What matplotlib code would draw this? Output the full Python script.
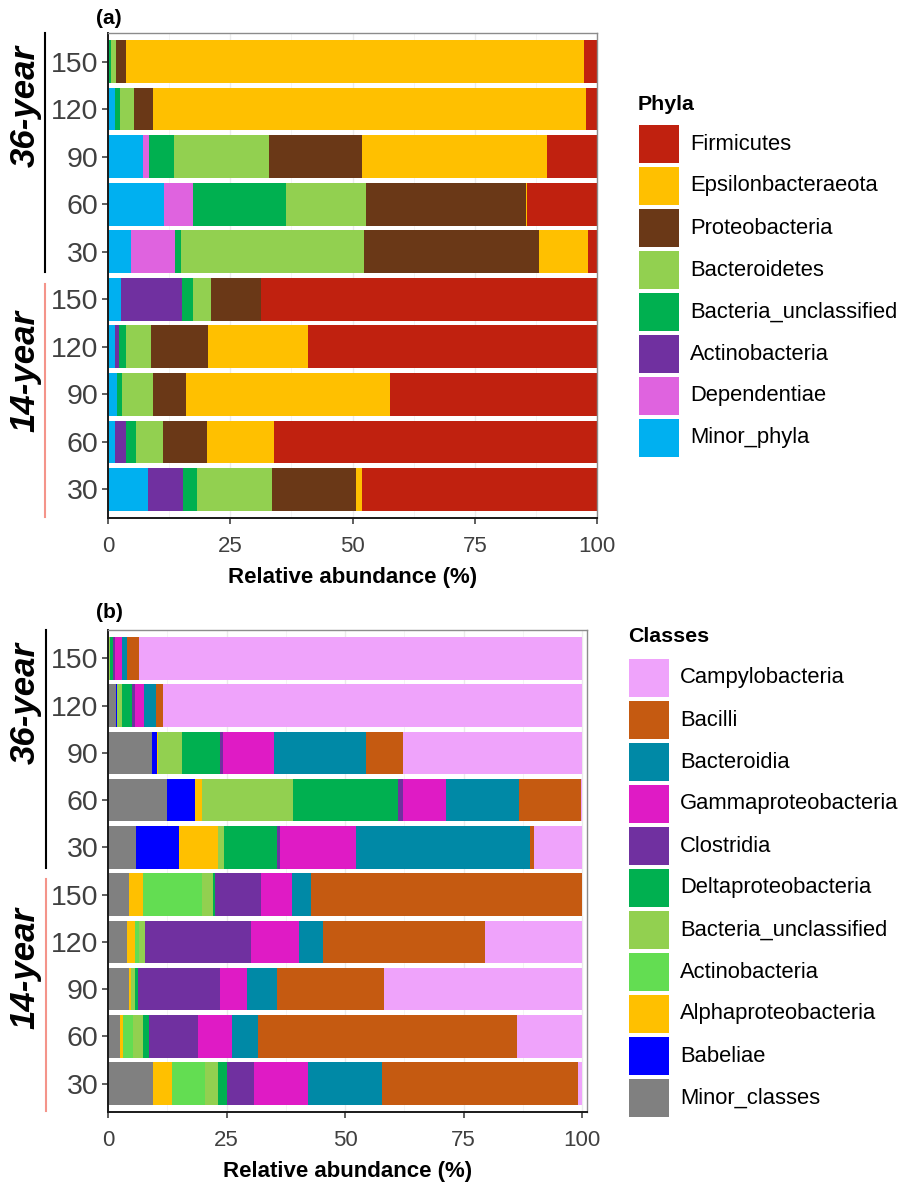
import matplotlib
matplotlib.use("Agg")
import matplotlib.pyplot as plt
from matplotlib.patches import Rectangle
from matplotlib.lines import Line2D
import numpy as np

plt.rcParams['font.family'] = ['Liberation Sans', 'DejaVu Sans']

# rows top to bottom: 36-year 150..30, then 14-year 150..30
depth_labels = ['150', '120', '90', '60', '30', '150', '120', '90', '60', '30']

# (a) phyla, stacked left to right in this order
phyla = ['Minor_phyla', 'Dependentiae', 'Actinobacteria', 'Bacteria_unclassified',
         'Bacteroidetes', 'Proteobacteria', 'Epsilonbacteraeota', 'Firmicutes']
phyla_colors = ['#00B0F0', '#DF63DF', '#7030A0', '#00B050',
                '#92D050', '#6A3817', '#FFC000', '#C0210F']
minor_phyla = [0.0, 1.5, 7.2, 11.5, 4.7, 2.6, 1.4, 1.8, 1.4, 8.1]
dependentiae = [0.0, 0.0, 1.2, 5.8, 8.9, 0.0, 0.0, 0.0, 0.0, 0.0]
actinobacteria_p = [0.0, 0.0, 0.0, 0.0, 0.0, 12.5, 0.9, 0.0, 2.2, 7.2]
bact_uncl_p = [0.55, 1.0, 5.0, 19.2, 1.3, 2.2, 1.4, 1.1, 2.1, 2.8]
bacteroidetes = [1.0, 2.8, 19.6, 16.3, 37.5, 3.8, 5.1, 6.4, 5.5, 15.4]
proteobacteria = [2.05, 3.9, 19.0, 32.6, 35.7, 10.2, 11.7, 6.7, 9.1, 17.3]
epsilonbacteraeota = [93.7, 88.6, 37.8, 0.3, 10.1, 0.0, 20.5, 41.7, 13.6, 1.1]
firmicutes = [2.7, 2.2, 10.2, 14.3, 1.8, 68.7, 59.0, 42.3, 66.1, 48.1]

# (b) classes, stacked left to right in this order
classes = ['Minor_classes', 'Babeliae', 'Alphaproteobacteria', 'Actinobacteria',
           'Bacteria_unclassified', 'Deltaproteobacteria', 'Clostridia',
           'Gammaproteobacteria', 'Bacteroidia', 'Bacilli', 'Campylobacteria']
class_colors = ['#808080', '#0000FF', '#FFC000', '#63DD52', '#92D050', '#00B050',
                '#7030A0', '#DF1BC5', '#0089A6', '#C55A11', '#EFA3FB']
minor_classes = [0.2, 1.6, 9.3, 12.5, 5.85, 4.4, 4.0, 4.5, 2.6, 9.5]
babeliae = [0.0, 0.3, 1.1, 5.8, 9.05, 0.0, 0.0, 0.0, 0.0, 0.0]
alphaproteobacteria = [0.0, 0.0, 0.2, 1.6, 8.3, 3.0, 1.6, 0.4, 0.5, 4.0]
actinobacteria_c = [0.0, 0.0, 0.0, 0.0, 0.0, 12.4, 0.95, 0.0, 2.2, 7.0]
bact_uncl_c = [0.3, 1.05, 5.1, 19.1, 1.2, 2.3, 1.35, 0.8, 2.0, 2.7]
deltaproteobacteria = [0.5, 2.05, 8.0, 22.2, 11.2, 0.5, 0.0, 0.6, 1.3, 1.9]
clostridia = [0.4, 0.6, 0.6, 1.0, 0.6, 9.6, 22.3, 17.3, 10.4, 5.7]
gammaproteobacteria = [1.5, 1.9, 10.6, 9.0, 16.1, 6.6, 10.0, 5.7, 7.2, 11.3]
bacteroidia = [1.05, 2.7, 19.4, 15.4, 36.7, 4.0, 5.1, 6.4, 5.5, 15.6]
bacilli = [2.6, 1.3, 8.0, 13.1, 0.9, 57.2, 34.2, 22.5, 54.6, 41.3]
campylobacteria = [93.45, 88.5, 37.7, 0.3, 10.1, 0.0, 20.5, 41.8, 13.7, 1.0]

phyla_values = [minor_phyla, dependentiae, actinobacteria_p, bact_uncl_p,
                bacteroidetes, proteobacteria, epsilonbacteraeota, firmicutes]
class_values = [minor_classes, babeliae, alphaproteobacteria, actinobacteria_c,
                bact_uncl_c, deltaproteobacteria, clostridia, gammaproteobacteria,
                bacteroidia, bacilli, campylobacteria]

W, H = 901, 1184
fig = plt.figure(figsize=(W / 100, H / 100), dpi=100)


def fx(px):
    return px / W


def fy(py):
    return 1 - py / H


def stacked(ax, values, colors, xmax):
    ypos = np.arange(len(depth_labels))[::-1]
    left = np.zeros(len(depth_labels))
    for vals, col in zip(values, colors):
        vals = np.array(vals)
        ax.barh(ypos, vals, left=left, height=0.9, color=col, linewidth=0, zorder=2)
        left += vals
    ax.set_xlim(0, xmax)
    ax.set_ylim(-0.6, len(depth_labels) - 0.4)
    ax.set_yticks(ypos)
    ax.set_yticklabels(depth_labels)
    ax.set_xticks([0, 25, 50, 75, 100])
    ax.set_xticks([12.5, 37.5, 62.5, 87.5], minor=True)
    ax.grid(axis='x', which='major', color='#ebebeb', lw=1.0, zorder=0)
    ax.grid(axis='x', which='minor', color='#f2f2f2', lw=0.6, zorder=0)
    ax.set_axisbelow(True)
    ax.tick_params(axis='both', which='major', labelcolor='#404040',
                   color='#333333', length=4.3, width=1.1)
    ax.tick_params(axis='x', pad=9, labelsize=16)
    ax.tick_params(axis='y', pad=2.5, labelsize=20.5)
    ax.tick_params(which='minor', length=0)
    ax.set_xlabel('Relative abundance (%)', fontsize=16, fontweight='bold', labelpad=7)
    for side in ['top', 'right']:
        ax.spines[side].set_color('#8c8c8c')
        ax.spines[side].set_linewidth(1.0)
    for side in ['left', 'bottom']:
        ax.spines[side].set_color('#1a1a1a')
        ax.spines[side].set_linewidth(1.4)

    # site age brackets beside the depth labels
    trans = ax.get_yaxis_transform()
    ax.add_line(Line2D([-0.129, -0.129], [4.57, 9.6], transform=trans, color='black',
                       lw=1.5, clip_on=False))
    ax.add_line(Line2D([-0.129, -0.129], [-0.58, 4.33], transform=trans, color='#F4948A',
                       lw=1.5, clip_on=False))


def legend(title, names, colors, x0, y_title, y_key):
    fig.text(fx(x0), fy(y_title), title, fontsize=15.4, fontweight='bold',
             ha='left', va='center')
    for i, (name, col) in enumerate(zip(names, colors)):
        top = y_key + 42 * i
        fig.add_artist(Rectangle((fx(x0 + 1), fy(top + 38)), 40 / W, 38 / H,
                                 transform=fig.transFigure, color=col, lw=0))
        fig.text(fx(x0 + 52), fy(top + 19), name, fontsize=15.8, ha='left', va='center')


ax_a = fig.add_axes([fx(108), fy(518), fx(597) - fx(108), fy(33) - fy(518)])
stacked(ax_a, phyla_values, phyla_colors, 100)
ax_b = fig.add_axes([fx(108), fy(1112), fx(587) - fx(108), fy(630) - fy(1112)])
stacked(ax_b, class_values, class_colors, 101)

# panel letters and group labels
fig.text(fx(96), fy(18), '(a)', fontsize=15, fontweight='bold', ha='left', va='center')
fig.text(fx(96), fy(613), '(b)', fontsize=15, fontweight='bold', ha='left', va='center')
for top in (33, 630):
    fig.text(fx(25), fy(top + 73), '36-year', fontsize=25, fontweight='bold',
             fontstyle='italic', rotation=90, ha='center', va='center')
    fig.text(fx(25), fy(top + 338), '14-year', fontsize=25, fontweight='bold',
             fontstyle='italic', rotation=90, ha='center', va='center')

legend('Phyla', phyla[::-1], phyla_colors[::-1], 638, 104, 125)
legend('Classes', classes[::-1], class_colors[::-1], 628, 637, 659)

fig.savefig('out.png', dpi=100)
